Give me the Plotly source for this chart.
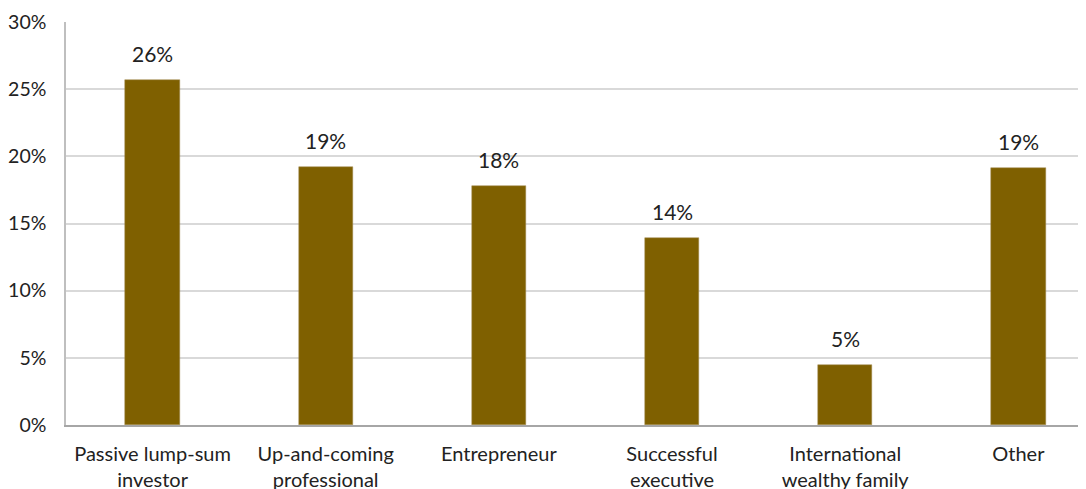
import plotly.graph_objects as go

categories = ["Passive lump-sum<br>investor", "Up-and-coming<br>professional", "Entrepreneur",
              "Successful<br>executive", "International<br>wealthy family", "Other"]
values = [25.7, 19.2, 17.8, 13.9, 4.5, 19.1]
labels = ["26%", "19%", "18%", "14%", "5%", "19%"]
tick_vals = [0, 5, 10, 15, 20, 25, 30]
tick_text = ["0%", "5%", "10%", "15%", "20%", "25%", "30%"]

FONT = "Lato, 'Open Sans', sans-serif"

fig = go.Figure()
fig.add_trace(go.Bar(
    x=list(range(len(categories))), y=values,
    marker=dict(color="#7F6000", line=dict(color="#A08850", width=0.5)),
    width=0.314,
))
for i, (v, t) in enumerate(zip(values, labels)):
    fig.add_annotation(x=i, y=v, text=t, showarrow=False, yanchor="bottom",
                       yshift=12, font=dict(family=FONT, size=21, color="#222222"))

fig.update_layout(
    width=1086, height=489,
    margin=dict(l=58, r=0, t=14, b=72),
    paper_bgcolor="white", plot_bgcolor="white",
    showlegend=False,
    font=dict(family=FONT, size=20, color="#222222"),
    bargap=0,
)
fig.update_xaxes(
    range=[-0.5, 5.437], tickmode="array",
    tickvals=list(range(len(categories))), ticktext=categories,
    showgrid=False, showline=True, linecolor="#a6a6a6", linewidth=1.5,
    ticks="", ticklabelstandoff=10, tickfont=dict(size=20), automargin=False,
)
fig.update_yaxes(
    range=[0, 30], tickmode="array", tickvals=tick_vals, ticktext=tick_text,
    showgrid=True, gridcolor="#d9d9d9", gridwidth=1.5,
    showline=True, linecolor="#bfbfbf", linewidth=1.5, zeroline=False,
    ticks="", ticklabelstandoff=14, tickfont=dict(size=19.5), automargin=False,
)

fig.write_html("out.html")
